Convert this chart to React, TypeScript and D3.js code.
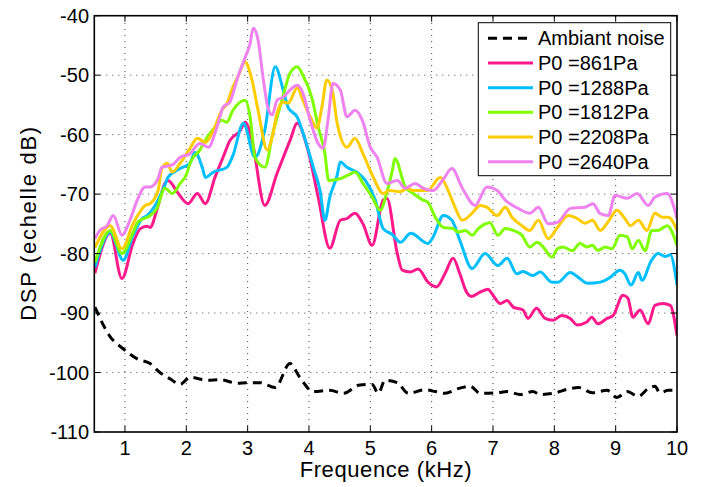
import React from "react";
import * as d3 from "d3";

type Pt = [number, number];

const xTicks = [1, 2, 3, 4, 5, 6, 7, 8, 9, 10];
const yTicks = [-110, -100, -90, -80, -70, -60, -50, -40];

const noise: Pt[] = [[0.51,-89],[0.76,-94],[0.97,-96],[1.2,-97.7],[1.41,-98.5],[1.57,-100],[1.74,-101.1],[1.9,-102],[2.06,-100.8],[2.34,-101.3],[2.55,-101.2],[2.83,-101.8],[2.99,-101.7],[3.2,-101.7],[3.45,-102.5],[3.69,-98.5],[3.85,-100.8],[4.07,-103.2],[4.34,-103],[4.56,-103.5],[4.83,-102.1],[5.03,-102],[5.13,-103.5],[5.24,-101.3],[5.44,-101.7],[5.62,-103.5],[5.89,-102.9],[6.06,-103.2],[6.22,-103.5],[6.43,-102.7],[6.63,-102.3],[6.79,-103.5],[7.07,-103.4],[7.23,-103.2],[7.44,-103.7],[7.65,-103.2],[7.77,-103.7],[7.98,-103.5],[8.26,-102.7],[8.39,-102.5],[8.62,-103.4],[8.86,-103],[9.02,-104.2],[9.19,-103.2],[9.37,-104],[9.53,-102.7],[9.64,-102.3],[9.72,-103.4],[9.86,-103],[10,-103]];

const p861: Pt[] = [[0.51,-83.3],[0.76,-76.6],[0.95,-84.2],[1.13,-78.3],[1.25,-75.8],[1.36,-75.4],[1.41,-75.6],[1.52,-72.7],[1.65,-68.2],[1.7,-67.7],[1.87,-69.9],[2.03,-71.6],[2.18,-69.9],[2.31,-71.6],[2.47,-67.1],[2.6,-63.8],[2.71,-61],[2.88,-59.3],[2.96,-57.9],[3.07,-60.9],[3.28,-71.9],[3.48,-66.5],[3.69,-61],[3.81,-58.1],[3.97,-62.1],[4.15,-70.5],[4.34,-79.1],[4.51,-74.4],[4.62,-74.1],[4.75,-73.2],[4.88,-75],[5.03,-78.6],[5.21,-71],[5.27,-70.7],[5.44,-80],[5.52,-82.8],[5.65,-83.1],[5.78,-82.6],[5.94,-84.8],[6.08,-85.6],[6.22,-83.3],[6.35,-80.8],[6.46,-83.4],[6.57,-86.5],[6.65,-87.2],[6.79,-86.5],[6.92,-86],[6.98,-86.7],[7.12,-88.4],[7.23,-87.9],[7.33,-89],[7.49,-89.5],[7.57,-90.9],[7.71,-89.2],[7.85,-90.9],[7.98,-91.2],[8.12,-90.4],[8.26,-90.9],[8.37,-92],[8.53,-91.5],[8.61,-90.7],[8.71,-91.8],[8.86,-90.9],[8.96,-90.4],[9.12,-87],[9.2,-87.5],[9.28,-90.7],[9.4,-89.5],[9.53,-91.8],[9.64,-88.7],[9.77,-88.4],[9.89,-88.7],[10,-93.8]];

const p1288: Pt[] = [[0.51,-82.3],[0.76,-76.4],[0.97,-81.1],[1.13,-77],[1.28,-74.1],[1.36,-73.6],[1.52,-71.4],[1.65,-68.5],[1.7,-67.2],[1.9,-65.7],[2.06,-64.8],[2.14,-63],[2.26,-65.5],[2.31,-67.2],[2.44,-66.3],[2.66,-65.5],[2.76,-63.5],[2.93,-58.1],[3.12,-63.8],[3.28,-59.2],[3.45,-48.6],[3.58,-52.5],[3.66,-55.4],[3.81,-57.1],[3.94,-60.9],[4.07,-65.5],[4.18,-69.4],[4.26,-74.4],[4.34,-70.5],[4.46,-66.8],[4.51,-64.6],[4.62,-65.5],[4.78,-66.3],[4.92,-67.7],[5.08,-71],[5.21,-75.8],[5.36,-76.8],[5.49,-78.1],[5.66,-76.6],[5.94,-78.3],[6.02,-77.3],[6.19,-73.6],[6.33,-74.4],[6.46,-77.8],[6.66,-82.5],[6.87,-80],[7.08,-82],[7.23,-80.8],[7.39,-83.4],[7.49,-83],[7.65,-83.7],[7.77,-83.1],[7.96,-84.8],[8.06,-84.8],[8.26,-83.2],[8.39,-84],[8.55,-85],[8.75,-84.8],[8.91,-84],[9.07,-82.8],[9.15,-83.4],[9.25,-85.3],[9.37,-83.2],[9.43,-84.5],[9.58,-81.2],[9.69,-80],[9.81,-80.5],[9.89,-80.2],[10,-85.3]];

const p1812: Pt[] = [[0.51,-81.5],[0.76,-76.1],[0.95,-80],[1.13,-76.5],[1.21,-74.7],[1.41,-73.6],[1.52,-72.4],[1.65,-69],[1.77,-69.9],[1.9,-68.2],[2.01,-66.5],[2.06,-64.8],[2.22,-62.6],[2.36,-60.1],[2.47,-58.7],[2.58,-57.6],[2.66,-57.9],[2.76,-55.9],[2.96,-54.2],[3.04,-57],[3.12,-63.8],[3.28,-65.5],[3.41,-59.8],[3.56,-54.2],[3.69,-49.7],[3.81,-48.6],[3.9,-50],[4.05,-53.9],[4.15,-58.7],[4.26,-63.2],[4.32,-67.7],[4.51,-67.4],[4.64,-66.8],[4.75,-66.3],[4.88,-68.2],[5.03,-70.5],[5.16,-72.7],[5.27,-69.7],[5.36,-66],[5.4,-64],[5.57,-68.8],[5.7,-69.9],[5.86,-71],[5.94,-71.4],[6.06,-73.9],[6.19,-75.6],[6.35,-75.8],[6.43,-76.4],[6.55,-76.1],[6.66,-76.9],[6.76,-75.8],[6.95,-74.8],[7.08,-76.9],[7.2,-75.8],[7.33,-76.1],[7.47,-76.9],[7.6,-78.9],[7.72,-78.1],[7.82,-78.9],[7.96,-80.6],[8.05,-79.2],[8.14,-78.9],[8.29,-79.5],[8.42,-78.3],[8.53,-78.9],[8.62,-78.6],[8.71,-79.5],[8.83,-78.9],[8.94,-79.2],[9.07,-76.9],[9.19,-77.2],[9.27,-79.2],[9.37,-77.8],[9.48,-79.5],[9.59,-76.1],[9.69,-76.1],[9.84,-75.3],[10,-78.6]];

const p2208: Pt[] = [[0.51,-79],[0.76,-75.3],[0.95,-79.2],[1.13,-75],[1.33,-71.9],[1.41,-71.6],[1.54,-69.4],[1.6,-65.7],[1.69,-64.8],[1.77,-66.3],[1.9,-64.8],[2.06,-62.3],[2.18,-60.6],[2.31,-61.3],[2.44,-59.3],[2.58,-55.9],[2.66,-54.8],[2.76,-52],[2.84,-50.3],[2.96,-47.8],[3.07,-50.8],[3.17,-55.9],[3.32,-62.6],[3.4,-60.4],[3.48,-56.4],[3.58,-54.5],[3.66,-54.7],[3.81,-52.1],[3.9,-54.2],[4.02,-57],[4.13,-58.9],[4.21,-55.4],[4.29,-50.8],[4.38,-52.5],[4.46,-58.1],[4.62,-62.1],[4.75,-60.6],[4.88,-63.2],[5.05,-67.2],[5.21,-69.9],[5.32,-69.4],[5.49,-69.6],[5.6,-69],[5.7,-69.4],[5.93,-69.4],[6.14,-67.2],[6.27,-69.4],[6.38,-72.2],[6.5,-74.4],[6.66,-73.2],[6.79,-71.9],[6.9,-72.2],[7.07,-73.6],[7.2,-72.2],[7.31,-73.9],[7.47,-75.3],[7.6,-76.1],[7.74,-74.4],[7.9,-77.5],[8.05,-75.6],[8.23,-73.6],[8.37,-74.1],[8.5,-74.9],[8.62,-74.4],[8.75,-76.1],[8.88,-74.6],[9.02,-72.7],[9.15,-74.1],[9.24,-75.3],[9.37,-74.4],[9.51,-76.1],[9.64,-73.2],[9.76,-73.9],[9.86,-73.9],[10,-76.1]];

const p2640: Pt[] = [[0.51,-77.5],[0.59,-76.1],[0.71,-75.3],[0.81,-73.6],[0.95,-76.9],[1.08,-74.4],[1.2,-71],[1.33,-68.8],[1.41,-68.8],[1.54,-67.4],[1.6,-65.5],[1.77,-65.1],[1.9,-63.8],[2.06,-63.2],[2.22,-61.5],[2.36,-62.1],[2.5,-58.7],[2.6,-55.4],[2.71,-54.5],[2.84,-50.3],[2.96,-47],[3.04,-44.7],[3.09,-42.1],[3.17,-44.1],[3.25,-50.3],[3.33,-55.4],[3.4,-56.7],[3.48,-54.2],[3.58,-53.7],[3.69,-52.5],[3.81,-51.7],[3.9,-53],[4.02,-57.6],[4.15,-61.5],[4.23,-62.3],[4.31,-57.6],[4.39,-51.4],[4.51,-52.5],[4.62,-57],[4.75,-55.9],[4.87,-57.6],[5,-62.1],[5.11,-63.8],[5.27,-68.2],[5.44,-67.7],[5.57,-69],[5.73,-68.2],[5.86,-69],[6.02,-69.4],[6.19,-67.5],[6.33,-65.7],[6.5,-69],[6.71,-71.9],[6.9,-68.8],[7.07,-69.4],[7.2,-71],[7.41,-72.4],[7.6,-73.2],[7.74,-72.2],[7.9,-75],[8.06,-74.7],[8.26,-72.4],[8.5,-72.2],[8.63,-71.6],[8.75,-73.3],[8.88,-73.6],[8.99,-70.2],[9.19,-70.7],[9.35,-69.9],[9.53,-71.9],[9.64,-70.5],[9.84,-69.9],[10,-74.1]];

const seriesNames = ["Ambiant noise", "P0 =861Pa", "P0 =1288Pa", "P0 =1812Pa", "P0 =2208Pa", "P0 =2640Pa"];
const seriesData = [noise, p861, p1288, p1812, p2208, p2640];
const seriesColors = ["#000000", "#ff1a8c", "#00bfff", "#7fff00", "#ffcc00", "#ee82ee"];

const W = 704, H = 487;
const L = 94.3, R = 677, T = 15.7, B = 432;
const FONT = "'Liberation Sans', Arial, Helvetica, sans-serif";

export default function App() {
  const x = d3.scaleLinear().domain([0.5, 10]).range([L, R]);
  const y = d3.scaleLinear().domain([-110, -40]).range([B, T]);
  const line = d3.line<Pt>().x(d => x(d[0])).y(d => y(d[1])).curve(d3.curveMonotoneX);

  const legX = 478.3, legY = 22.7, legW = 192.4, legH = 153;
  const rowY = (i: number) => 38.3 + i * 24.68;

  return (
    <svg width={W} height={H} style={{ position: "absolute", left: 0, top: 0, background: "#fff" }} fontFamily={FONT}>
      <defs>
        <clipPath id="plotclip">
          <rect x={L} y={T} width={R - L} height={B - T} />
        </clipPath>
      </defs>
      <rect x={0} y={0} width={W} height={H} fill="#fff" />
      <g stroke="#444" strokeWidth={1} strokeDasharray="1,5">
        {xTicks.filter(t => t < 10).map(t => (
          <line key={"gx" + t} x1={x(t)} x2={x(t)} y1={B} y2={T} />
        ))}
        {yTicks.filter(t => t > -110 && t < -40).map(t => (
          <line key={"gy" + t} x1={L} x2={R} y1={y(t)} y2={y(t)} />
        ))}
      </g>
      <g clipPath="url(#plotclip)" fill="none">
        {seriesData.map((d, i) => (
          <path key={"s" + i} d={line(d) || ""} stroke={seriesColors[i]} strokeWidth={3}
            strokeDasharray={i === 0 ? "9,6" : undefined} strokeLinejoin="round" />
        ))}
      </g>
      <g stroke="#000" strokeWidth={1}>
        {xTicks.map(t => (
          <g key={"tx" + t}>
            <line x1={x(t)} x2={x(t)} y1={B} y2={B - 6} />
            <line x1={x(t)} x2={x(t)} y1={T} y2={T + 6} />
          </g>
        ))}
        {yTicks.map(t => (
          <g key={"ty" + t}>
            <line x1={L} x2={L + 6} y1={y(t)} y2={y(t)} />
            <line x1={R} x2={R - 6} y1={y(t)} y2={y(t)} />
          </g>
        ))}
      </g>
      <rect x={L} y={T} width={R - L} height={B - T} fill="none" stroke="#000" strokeWidth={1.6} />
      <g fontSize={20} fill="#000">
        {xTicks.map(t => (
          <text key={"lx" + t} x={x(t)} y={455} textAnchor="middle">{t}</text>
        ))}
        {yTicks.map(t => (
          <text key={"ly" + t} x={89} y={y(t) + 7} textAnchor="end">{String(t)}</text>
        ))}
      </g>
      <text x={(L + R) / 2} y={476.5} textAnchor="middle" fontSize={22} textLength={172} lengthAdjust="spacing">Frequence (kHz)</text>
      <text transform={`translate(36,${(T + B) / 2}) rotate(-90)`} textAnchor="middle" fontSize={22} textLength={194} lengthAdjust="spacing">DSP (echelle dB)</text>
      <g>
        <rect x={legX} y={legY} width={legW} height={legH} fill="#fff" stroke="#000" strokeWidth={1} />
        {seriesNames.map((n, i) => (
          <g key={"lg" + i}>
            <line x1={488} x2={533} y1={rowY(i)} y2={rowY(i)} stroke={seriesColors[i]} strokeWidth={3}
              strokeDasharray={i === 0 ? "9,6" : undefined} />
            <text x={538} y={rowY(i) + 7} fontSize={20}>{n}</text>
          </g>
        ))}
      </g>
    </svg>
  );
}
